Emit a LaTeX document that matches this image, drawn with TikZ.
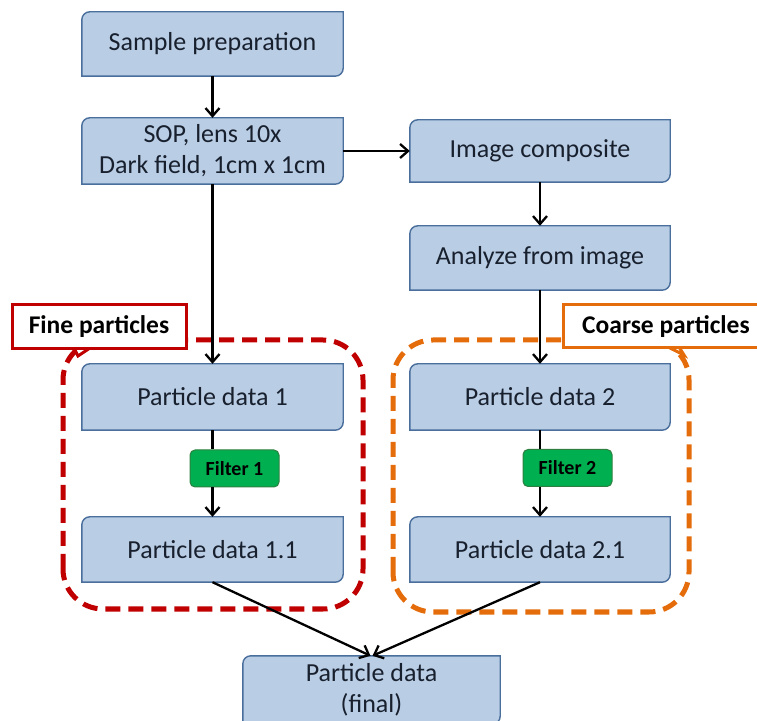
\documentclass[tikz,border=0pt]{standalone}
\usepackage{fontspec}
\setmainfont{Carlito}
\usetikzlibrary{arrows.meta,backgrounds}
\definecolor{boxfill}{HTML}{B9CDE5}
\definecolor{boxline}{HTML}{4A6F9C}
\definecolor{txtcol}{HTML}{18202E}
\definecolor{fred}{HTML}{C00000}
\definecolor{corange}{HTML}{E46C0A}
\definecolor{fgreen}{HTML}{00B050}
\definecolor{fgline}{HTML}{2E8040}
\tikzset{
  procbox/.style={inner sep=0pt, align=center, text=txtcol,
    font=\fontsize{26}{31}\selectfont},
  procshape/.style={fill=boxfill, draw=boxline, line width=1.4pt},
  filterbox/.style={fill=fgreen, draw=fgline, line width=1pt, rounded corners=5pt,
    inner sep=0pt, minimum width=89pt, minimum height=37pt, text=black,
    font=\fontsize{20}{24}\selectfont\bfseries},
  conn/.style={draw=black, line width=2.3pt,
    -{Straight Barb[length=8pt,width=14pt,line width=2.3pt]}},
  plain/.style={draw=black, line width=2.3pt},
  groupbox/.style={line width=5pt, dash pattern=on 15pt off 8pt, rounded corners=40pt},
  labelbox/.style={fill=white, line width=3pt, inner sep=0pt,
    font=\fontsize{25.5}{30}\selectfont\bfseries, text=black},
}
\begin{document}
\begin{tikzpicture}[x=1pt,y=1pt]
\useasboundingbox (0,0) rectangle (757,720);

% nodes
\node[procbox, minimum width=261pt, minimum height=64pt] (sp) at (212.5,676) {Sample preparation};
\node[procbox, minimum width=261pt, minimum height=66pt] (sop) at (212.5,569) {SOP, lens 10x\\Dark field, 1cm x 1cm};
\node[procbox, minimum width=260pt, minimum height=62pt] (ic) at (540,569) {Image composite};
\node[procbox, minimum width=260pt, minimum height=64pt] (an) at (540,462) {Analyze from image};
\node[procbox, minimum width=261pt, minimum height=66pt] (pd1) at (212.5,323) {Particle data 1};
\node[procbox, minimum width=261pt, minimum height=65pt] (pd11) at (212.5,170.5) {Particle data 1.1};
\node[procbox, minimum width=260pt, minimum height=66pt] (pd2) at (540,323) {Particle data 2};
\node[procbox, minimum width=260pt, minimum height=65pt] (pd21) at (540,170.5) {Particle data 2.1};
\node[procbox, minimum width=257pt, minimum height=68pt] (fin) at (371.5,30) {Particle data\\(final)};

\begin{pgfonlayer}{background}
  % group frames
  \draw[groupbox, draw=fred] (63,111) rectangle (363,380);
  \draw[groupbox, draw=corange] (393,108) rectangle (689,380);
  % box shapes: rounded top-left and bottom-right corners
  \foreach \n in {sp,sop,ic,an,pd1,pd11,pd2,pd21,fin}{
    \draw[procshape] ([xshift=8pt]\n.north west) -- (\n.north east)
      -- ([yshift=8pt]\n.south east) arc[start angle=0,end angle=-90,radius=8pt]
      -- (\n.south west) -- ([yshift=-8pt]\n.north west)
      arc[start angle=180,end angle=90,radius=8pt] -- cycle;
  }
\end{pgfonlayer}

% filters
\node[filterbox] (f1) at (234.5,251.5) {Filter 1};
\node[filterbox] (f2) at (567.5,252) {Filter 2};

% labels
\draw[fred, line width=3pt, fill=white, line join=miter] (74,372) -- (78,364) -- (90,372);
\node[labelbox, draw=fred, minimum width=174pt, minimum height=44pt] (fine) at (99,393) {Fine particles};
\draw[corange, line width=3pt, fill=white, line join=miter] (668,373) -- (684,365) -- (679,373);
\node[labelbox, draw=corange, minimum width=206pt, minimum height=43pt] (coarse) at (666,393.5) {Coarse particles};

% connectors
\draw[conn] (sp) -- (sop);
\draw[conn] (sop) -- (ic);
\draw[conn] (sop) -- (pd1);
\draw[conn] (ic) -- (an);
\draw[conn] (an) -- (pd2);
\draw[plain] (pd1.south) -- (pd1.south |- f1.north);
\draw[conn] (pd11.north |- f1.south) -- (pd11.north);
\draw[plain] (pd2.south) -- (pd2.south |- f2.north);
\draw[conn] (pd21.north |- f2.south) -- (pd21.north);
\draw[conn] (pd11.south) -- ([xshift=-1pt]fin.north);
\draw[conn] (pd21.south) -- ([xshift=1pt]fin.north);
\end{tikzpicture}
\end{document}
